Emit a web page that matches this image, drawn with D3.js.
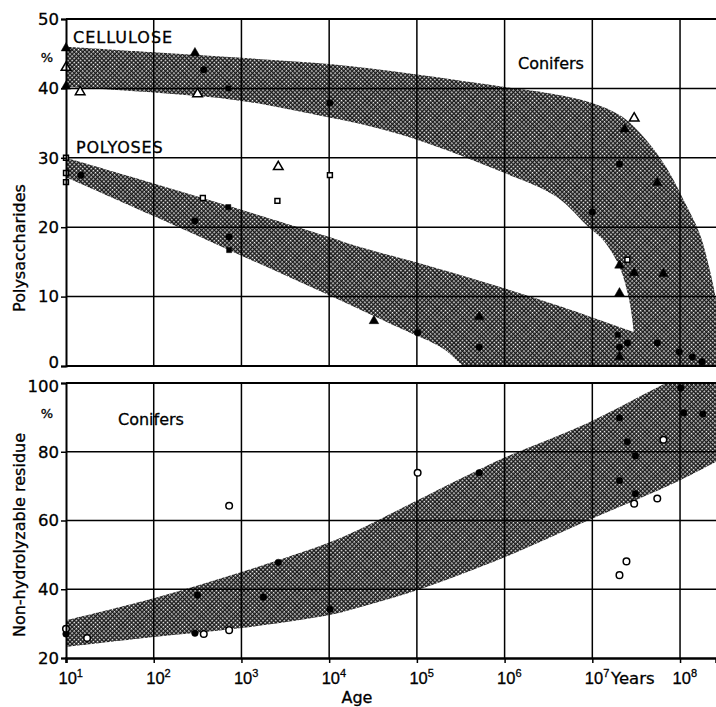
<!DOCTYPE html>
<html>
<head>
<meta charset="utf-8">
<script src="https://cdn.jsdelivr.net/npm/d3@7/dist/d3.min.js"></script>
<style>
  body { margin: 0; background: #fff; }
  svg { display: block; font-family: "DejaVu Sans", sans-serif; }
</style>
</head>
<body>
<svg id="chart" width="716" height="707"></svg>
<script>
// age axis (years, log) and value ticks
var ageTicks = [1e1, 1e2, 1e3, 1e4, 1e5, 1e6, 1e7, 1e8];
var ageMax = 2.57e8;
var polyTicks = [0, 10, 20, 30, 40, 50];
var residueTicks = [20, 40, 60, 80, 100];

// shaded bands, [age, %] read along the band edges
var celluloseUpper = [[1e1, 46.0], [1e2, 45.2], [1e3, 44.4], [1e4, 43.5], [1e5, 42.0], [1e6, 40.2],
	[3.2e6, 39.3], [1e7, 37.9], [2.2e7, 35.9], [4.1e7, 32.6], [6.9e7, 28.7], [1.1e8, 23.9],
	[1.66e8, 19.2], [2.14e8, 14.3], [2.57e8, 9.5], [3.2e8, 0]];
var celluloseLower = [[1e1, 40.2], [1e2, 39.4], [1e3, 38.2], [1e4, 35.8], [2.04e4, 35.0], [1e5, 32.6],
	[1e6, 27.8], [3.9e6, 24.4], [9.1e6, 20.0], [1.32e7, 18.2], [2.04e7, 14.3], [2.63e7, 9.5],
	[2.95e7, 5.2], [3.0e7, 4.0]];
var polyoseUpper = [[1e1, 30.0], [1e2, 26.3], [1e3, 22.5], [1e4, 18.6], [2.04e4, 17.3], [1e5, 14.9],
	[1.05e6, 11.1], [4.3e6, 8.6], [1e7, 7.0], [2.8e7, 5.0], [1e8, 2.5], [3e8, 0.5]];
var polyoseLower = [[1e1, 27.2], [1e2, 21.6], [1e3, 15.9], [1e4, 10.2], [6.3e4, 5.5], [2e5, 2.5],
	[4e5, -0.5], [1e6, -1], [1e7, -1], [1e8, -1], [3e8, -1]];
var residueUpper = [[1e1, 31.0], [1e2, 37.4], [1e3, 45.0], [1e4, 53.6], [2.04e4, 57.0], [1e5, 65.8],
	[1e6, 78.3], [8.9e6, 88.4], [6.9e7, 100], [3e8, 108]];
var residueLower = [[1e1, 23.2], [1e2, 26.1], [1e3, 28.7], [1e4, 32.5], [2.04e4, 34.5], [1e5, 39.7],
	[1e6, 49.3], [8.9e6, 60.0], [9.8e7, 71.6], [3e8, 78.0]];

// measured samples, [age, %, marker]
var cellulosePoints = [[10, 45.8, 'tri'], [10, 43.0, 'triOpen'], [10, 40.3, 'tri'], [14.5, 39.5, 'triOpen'],
	[295, 45.1, 'tri'], [372, 42.7, 'dot'], [316, 39.2, 'triOpen'], [708, 40.0, 'sq'], [10200, 37.9, 'dot'],
	[3.0e7, 35.7, 'triOpen'], [2.34e7, 34.1, 'tri'], [2.04e7, 29.1, 'dot'], [5.5e7, 26.4, 'tri'],
	[1.0e7, 22.2, 'dot'], [2.04e7, 14.5, 'tri'], [2.51e7, 15.3, 'sqOpen'], [3.0e7, 13.4, 'tri'],
	[6.46e7, 13.3, 'tri'], [2.04e7, 10.5, 'tri']];
var polyosePoints = [[10, 30.0, 'sqOpen'], [10, 27.8, 'sqOpen'], [10, 26.5, 'sqOpen'], [14.8, 27.5, 'dot'],
	[363, 24.2, 'sqOpen'], [295, 20.9, 'dot'], [708, 22.9, 'sq'], [724, 18.6, 'dot'], [724, 16.7, 'sq'],
	[2630, 28.7, 'triOpen'], [2570, 23.8, 'sqOpen'], [10200, 27.5, 'sqOpen'], [32400, 6.5, 'tri'],
	[1.02e5, 4.8, 'dot'], [5.13e5, 7.1, 'tri'], [5.13e5, 2.7, 'dot'], [1.95e7, 4.5, 'sq'],
	[2.51e7, 3.3, 'dot'], [2.04e7, 2.7, 'dot'], [2.04e7, 1.3, 'tri'], [5.5e7, 3.3, 'dot'],
	[9.8e7, 2.0, 'dot'], [1.38e8, 1.3, 'dot'], [1.78e8, 0.6, 'dot']];
var residuePoints = [[10, 27.0, 'dot'], [10, 28.5, 'dotOpen'], [17.4, 25.8, 'dotOpen'], [295, 27.2, 'dot'],
	[372, 27.0, 'dotOpen'], [724, 28.1, 'dotOpen'], [724, 64.3, 'dotOpen'], [316, 38.3, 'dot'],
	[1780, 37.7, 'dot'], [2630, 47.8, 'dot'], [10200, 34.2, 'dot'], [1.02e5, 73.9, 'dotOpen'],
	[5.13e5, 73.9, 'dot'], [1.02e8, 98.5, 'dot'], [2.04e7, 89.9, 'dot'], [1.1e8, 91.3, 'dot'],
	[1.82e8, 91.0, 'dot'], [6.46e7, 83.5, 'dotOpen'], [2.51e7, 82.9, 'dot'], [3.1e7, 78.8, 'dot'],
	[2.04e7, 71.6, 'dot'], [3.1e7, 67.8, 'dot'], [3.0e7, 64.9, 'dotOpen'], [5.5e7, 66.4, 'dotOpen'],
	[2.45e7, 48.1, 'dotOpen'], [2.04e7, 44.1, 'dotOpen']];

(function() {

	var svg = d3.select('#chart'),
		left = 66,
		right = 716;

	var x = d3.scaleLog().domain([ageTicks[0], ageMax]).range([left, right]);
	var yTop = d3.scaleLinear().domain([0, 50]).range([366, 19]);
	var yBot = d3.scaleLinear().domain([20, 100]).range([658, 383]);

	//halftone screen for the bands
	var defs = svg.append('defs');
	var screen = defs.append('pattern')
		.attr('id', 'screen')
		.attr('patternUnits', 'userSpaceOnUse')
		.attr('width', 3)
		.attr('height', 3)
		.attr('patternTransform', 'rotate(45)');
	screen.append('rect').attr('width', 3).attr('height', 3).attr('fill', '#1a1a1a');
	screen.append('rect').attr('width', 1.5).attr('height', 1.5).attr('fill', '#fff');

	defs.append('clipPath').attr('id', 'clipTop')
		.append('rect').attr('x', left).attr('y', yTop(50)).attr('width', right - left).attr('height', yTop(0) - yTop(50));
	defs.append('clipPath').attr('id', 'clipBot')
		.append('rect').attr('x', left).attr('y', yBot(100)).attr('width', right - left).attr('height', yBot(20) - yBot(100));

	// one closed shape per band: upper edge left to right, lower edge back
	function edge(pts, y) {
		return d3.line()
			.x(function(d) { return x(d[0]); })
			.y(function(d) { return y(d[1]); })
			.curve(d3.curveCatmullRom.alpha(0.5))(pts);
	}
	function bandPath(upper, lower, y) {
		return edge(upper, y) + edge(lower.slice().reverse(), y).replace(/^M/, 'L') + 'Z';
	}

	var topPanel = svg.append('g').attr('clip-path', 'url(#clipTop)');
	var botPanel = svg.append('g').attr('clip-path', 'url(#clipBot)');

	topPanel.append('path').attr('d', bandPath(polyoseUpper, polyoseLower, yTop)).attr('fill', 'url(#screen)');
	topPanel.append('path').attr('d', bandPath(celluloseUpper, celluloseLower, yTop)).attr('fill', 'url(#screen)');
	botPanel.append('path').attr('d', bandPath(residueUpper, residueLower, yBot)).attr('fill', 'url(#screen)');

	//grid
	function grid(g, y, ticks) {
		g.selectAll('line.v')
			.data(ageTicks.slice(1))
			.enter().append('line')
				.attr('x1', function(d) { return x(d); })
				.attr('x2', function(d) { return x(d); })
				.attr('y1', y.range()[1])
				.attr('y2', y.range()[0]);
		g.selectAll('line.h')
			.data(ticks.slice(1, -1))
			.enter().append('line')
				.attr('x1', left)
				.attr('x2', right)
				.attr('y1', function(d) { return y(d); })
				.attr('y2', function(d) { return y(d); });
		g.selectAll('line').attr('stroke', '#000').attr('stroke-width', 1.5);
	}
	grid(svg.append('g'), yTop, polyTicks);
	grid(svg.append('g'), yBot, residueTicks);

	//panel borders
	[yTop(50), yTop(0), yBot(100)].forEach(function(py) {
		svg.append('line').attr('x1', left).attr('x2', right).attr('y1', py).attr('y2', py)
			.attr('stroke', '#000').attr('stroke-width', 2);
	});

	//markers
	var symbols = {
		tri: [d3.symbolTriangle, 40, true],
		triOpen: [d3.symbolTriangle, 40, false],
		sq: [d3.symbolSquare, 26, true],
		sqOpen: [d3.symbolSquare, 24, false],
		dot: [d3.symbolCircle, 34, true],
		dotOpen: [d3.symbolCircle, 34, false]
	};
	function drawPoints(g, pts, y) {
		g.selectAll('path.pt')
			.data(pts)
			.enter().append('path')
				.attr('class', 'pt')
				.attr('transform', function(d) { return 'translate(' + x(d[0]) + ',' + y(d[1]) + ')'; })
				.attr('d', function(d) { return d3.symbol().type(symbols[d[2]][0]).size(symbols[d[2]][1])(); })
				.attr('fill', function(d) { return symbols[d[2]][2] ? '#000' : '#fff'; })
				.attr('stroke', '#000')
				.attr('stroke-width', function(d) { return symbols[d[2]][2] ? 0.5 : 1.5; });
	}
	drawPoints(svg.append('g'), cellulosePoints, yTop);
	drawPoints(svg.append('g'), polyosePoints, yTop);
	drawPoints(svg.append('g'), residuePoints, yBot);

	//axes
	function styleAxis(g) {
		g.select('.domain').attr('stroke-width', 2);
		g.selectAll('.tick line').attr('stroke-width', 1.5);
		g.selectAll('.tick text')
			.attr('font-size', 16.5)
			.attr('font-family', 'DejaVu Sans')
			.attr('fill', '#000')
			.attr('stroke', '#000')
			.attr('stroke-width', 0.3);
	}
	var yAxisTop = svg.append('g').attr('transform', 'translate(' + left + ',0)')
		.call(d3.axisLeft(yTop).tickValues(polyTicks).tickSizeOuter(0).tickSize(5).tickPadding(2))
		.call(styleAxis);
	yAxisTop.selectAll('.tick text').filter(function(d) { return d === 0; }).attr('dy', '0.1em');
	var yAxisBot = svg.append('g').attr('transform', 'translate(' + left + ',0)')
		.call(d3.axisLeft(yBot).tickValues(residueTicks).tickSizeOuter(0).tickSize(5).tickPadding(2))
		.call(styleAxis);
	yAxisBot.selectAll('.tick text').filter(function(d) { return d === 100; }).attr('dy', '0.5em');

	var xAxis = svg.append('g').attr('transform', 'translate(0,' + yBot(20) + ')')
		.call(d3.axisBottom(x).tickValues(ageTicks).tickSizeOuter(0).tickSize(5).tickFormat(''))
		.call(styleAxis);
	xAxis.select('.domain').attr('stroke-width', 2.5);
	var xLabel = xAxis.selectAll('.tick').append('text')
		.attr('x', -8)
		.attr('y', 26)
		.attr('text-anchor', 'start')
		.attr('fill', '#000')
		.attr('stroke', '#000')
		.attr('stroke-width', 0.3)
		.attr('font-size', 16.5);
	xLabel.append('tspan').text('10');
	xLabel.append('tspan')
		.attr('font-size', 11)
		.attr('dy', -7)
		.text(function(d) { return Math.round(Math.log10(d)); });

	//texts
	function label(txt, px, py, size, opts) {
		var t = svg.append('text')
			.attr('x', px)
			.attr('y', py)
			.attr('font-size', size)
			.attr('fill', '#000')
			.attr('stroke', '#000')
			.attr('stroke-width', 0.3)
			.text(txt);
		if (opts) {
			Object.keys(opts).forEach(function(k) { t.attr(k, opts[k]); });
		}
		return t;
	}
	label('CELLULOSE', 73, 43, 16, { 'letter-spacing': 1 });
	label('POLYOSES', 76, 153, 16, { 'letter-spacing': 0.8 });
	label('Conifers', 518, 69, 16);
	label('Conifers', 118, 425, 16);
	label('%', 47, 62, 13, { 'text-anchor': 'middle' });
	label('%', 47, 418, 13, { 'text-anchor': 'middle' });
	label('Years', 611, 684, 16.5);
	label('Age', 357, 703, 16, { 'text-anchor': 'middle' });
	label('Polysaccharides', 0, 0, 16, { 'text-anchor': 'middle', transform: 'translate(25,248) rotate(-90)' });
	label('Non-hydrolyzable residue', 0, 0, 16, { 'text-anchor': 'middle', transform: 'translate(25,535) rotate(-90)' });

}());
</script>
</body>
</html>
